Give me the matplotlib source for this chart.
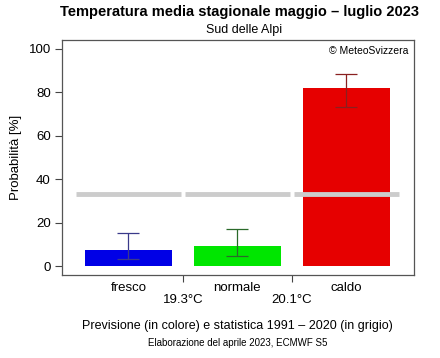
import matplotlib.pyplot as plt

plt.rcParams['font.family'] = ['Liberation Sans', 'DejaVu Sans']

categorie = ['fresco', 'normale', 'caldo']
soglie = ['19.3°C', '20.1°C']
probabilita = [7.5, 9.5, 82.0]
err_basso = [3.5, 4.6, 73.4]
err_alto = [15.1, 17.2, 88.6]
climatologia = [33.3, 33.3, 33.3]

colori = ['#0000e6', '#00e600', '#e60000']
colori_err = ['#3a3a8a', '#2a6a2a', '#8a2020']

fig = plt.figure(figsize=(4.4, 3.58), dpi=100)
ax = fig.add_axes([62 / 440, 1 - 275 / 358, 352 / 440, 235 / 358])

x = [1, 2, 3]
ax.bar(x, probabilita, width=0.8, color=colori, zorder=1)
ax.hlines(climatologia, [i - 0.485 for i in x], [i + 0.485 for i in x],
          color='#cccccc', linewidth=3.5, zorder=2)
for i in range(3):
    ax.errorbar(x[i], probabilita[i],
                yerr=[[probabilita[i] - err_basso[i]], [err_alto[i] - probabilita[i]]],
                fmt='none', ecolor=colori_err[i], elinewidth=0.9, capsize=8,
                capthick=0.9, zorder=3)

ax.set_xlim(0.39, 3.62)
ax.set_ylim(-4, 104)
ax.set_yticks([0, 20, 40, 60, 80, 100])
ax.set_xticks([1.5, 2.5])
ax.set_xticklabels(soglie)
ax.tick_params(axis='x', length=5, pad=9, labelsize=9.5, color='#444444')
ax.tick_params(axis='y', length=5, pad=3, labelsize=9.5, color='#444444')
for s in ax.spines.values():
    s.set_color('#555555')
    s.set_linewidth(0.9)

for i, c in zip(x, categorie):
    ax.text(i, -0.03, c, transform=ax.get_xaxis_transform(),
            ha='center', va='top', fontsize=9.5)

ax.set_ylabel('Probabilità [%]', fontsize=9.5, labelpad=5)
ax.text(0.985, 0.955, '© MeteoSvizzera', transform=ax.transAxes,
        ha='right', va='center', fontsize=7.5)

fig.text(0.545, 1 - 12 / 358, 'Temperatura media stagionale maggio – luglio 2023',
         ha='center', va='center', fontsize=10.5, fontweight='bold')
fig.text(0.555, 1 - 30 / 358, 'Sud delle Alpi', ha='center', va='center', fontsize=9)
fig.text(0.54, 1 - 326 / 358, 'Previsione (in colore) e statistica 1991 – 2020 (in grigio)',
         ha='center', va='center', fontsize=9)
fig.text(0.54, 1 - 343 / 358, 'Elaborazione del aprile 2023, ECMWF S5',
         ha='center', va='center', fontsize=7)

fig.savefig('out.png', dpi=100)
